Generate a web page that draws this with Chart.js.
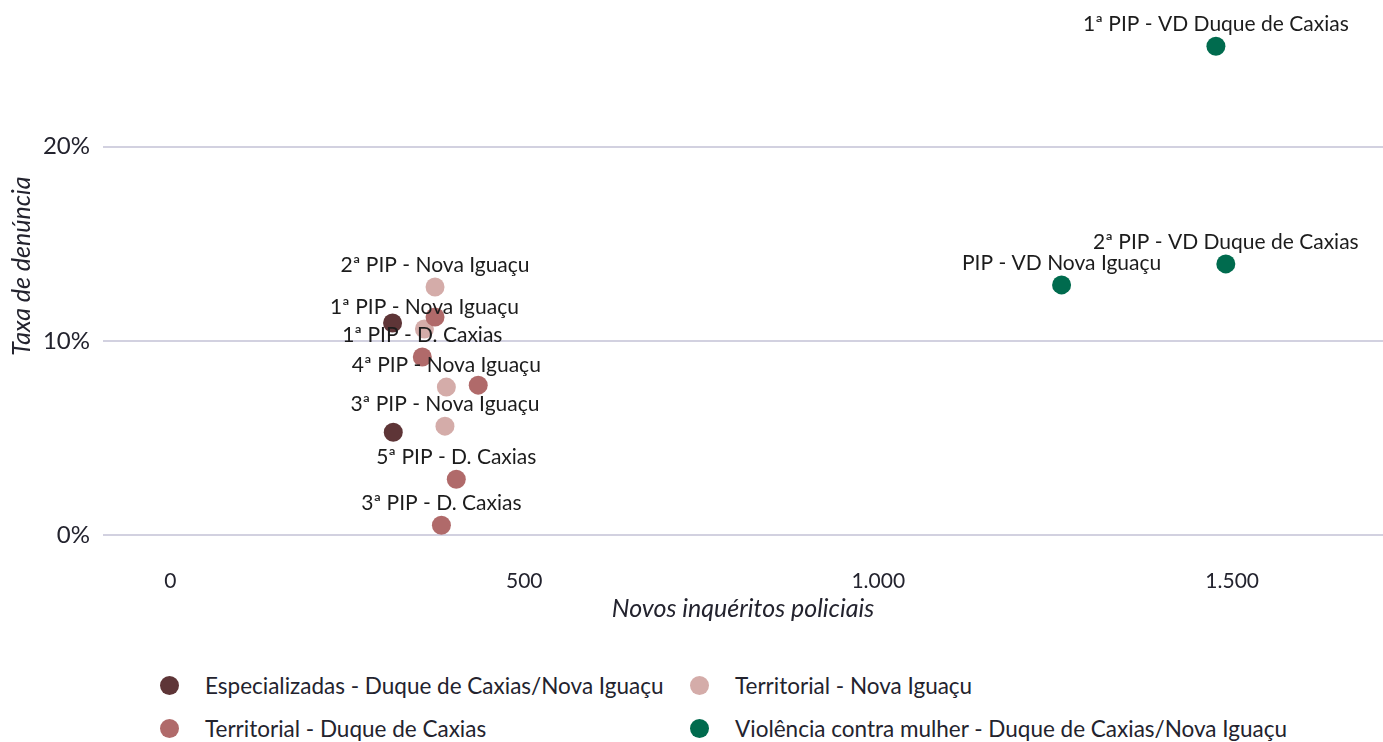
<!DOCTYPE html>
<html>
<head>
<meta charset="utf-8">
<script src="https://cdn.jsdelivr.net/npm/chart.js@4.4.1/dist/chart.umd.min.js"></script>
<style>
  html, body { margin: 0; background: #fff; font-family: Lato, sans-serif; overflow: hidden; }
  #wrap { position: relative; width: 1383px; height: 742px; overflow: hidden; }
  #box { position: absolute; left: 0; top: 0; width: 1383px; height: 624px; }
  #legend { position: absolute; left: 160px; top: 664px; display: grid; grid-template-columns: 530px auto; grid-auto-rows: 43px; }
  .item { display: flex; align-items: center; font-size: 22.5px; color: #23232e; white-space: nowrap; }
  .dot { width: 19px; height: 19px; border-radius: 50%; margin-right: 26px; flex: none; }
</style>
</head>
<body>
<div id="wrap">
  <div id="box"><canvas id="myChart"></canvas></div>
  <div id="legend"></div>
</div>
<script>
// categories (legend groups)
const groups = [
  'Especializadas - Duque de Caxias/Nova Iguaçu',
  'Territorial - Nova Iguaçu',
  'Territorial - Duque de Caxias',
  'Violência contra mulher - Duque de Caxias/Nova Iguaçu'
];
const groupColors = ['#5e3537', '#d4aca9', '#b06a6a', '#006b4e'];

// x = novos inquéritos, y = taxa de denúncia (%)
const espX = [314, 315];
const espY = [10.93, 5.31];
const espNames = ['', ''];

const terrNiX = [374, 359, 390, 388];
const terrNiY = [12.78, 10.62, 7.63, 5.62];
const terrNiNames = ['2ª PIP - Nova Iguaçu', '1ª PIP - Nova Iguaçu', '4ª PIP - Nova Iguaçu', '3ª PIP - Nova Iguaçu'];

const terrDcX = [374, 356, 435, 404, 383];
const terrDcY = [11.24, 9.18, 7.73, 2.89, 0.52];
const terrDcNames = ['', '1ª PIP - D. Caxias', '', '5ª PIP - D. Caxias', '3ª PIP - D. Caxias'];

const vcmX = [1477, 1491, 1259];
const vcmY = [25.17, 13.97, 12.89];
const vcmNames = ['1ª PIP - VD Duque de Caxias', '2ª PIP - VD Duque de Caxias', 'PIP - VD Nova Iguaçu'];

const xTicks = [0, 500, 1000, 1500];
const xTickLabels = ['0', '500', '1.000', '1.500'];
const yTicks = [0, 10, 20];
const yTickLabels = ['0%', '10%', '20%'];

const seriesX = [espX, terrNiX, terrDcX, vcmX];
const seriesY = [espY, terrNiY, terrDcY, vcmY];
const seriesNames = [espNames, terrNiNames, terrDcNames, vcmNames];

function points(xs, ys) {
  return xs.map((x, i) => ({ x: x, y: ys[i] }));
}

const textColor = '#23232e';

const pointLabels = {
  id: 'pointLabels',
  afterDatasetsDraw(chart) {
    const ctx = chart.ctx;
    ctx.save();
    ctx.font = '21px Lato';
    ctx.fillStyle = '#1c1c1c';
    ctx.textAlign = 'center';
    ctx.textBaseline = 'middle';
    chart.data.datasets.forEach((ds, i) => {
      const meta = chart.getDatasetMeta(i);
      meta.data.forEach((pt, j) => {
        const t = ds.names[j];
        if (t) ctx.fillText(t, pt.x, pt.y - 22);
      });
    });
    // y axis title
    ctx.translate(22, 266);
    ctx.rotate(-Math.PI / 2);
    ctx.font = 'italic 25px Lato';
    ctx.fillStyle = textColor;
    ctx.fillText('Taxa de denúncia', 0, 0);
    ctx.restore();
  }
};

const ctx = document.getElementById('myChart').getContext('2d');
const myChart = new Chart(ctx, {
  type: 'scatter',
  data: {
    datasets: groups.map((g, i) => ({
      label: g,
      data: points(seriesX[i], seriesY[i]),
      names: seriesNames[i],
      backgroundColor: groupColors[i],
      borderWidth: 0,
      pointRadius: 9.5,
      pointHoverRadius: 9.5,
      order: 3 - i
    }))
  },
  options: {
    responsive: true,
    maintainAspectRatio: false,
    animation: false,
    clip: false,
    layout: { autoPadding: false, padding: 0 },
    plugins: {
      legend: { display: false },
      tooltip: { enabled: false }
    },
    scales: {
      x: {
        type: 'linear',
        min: -95,
        max: 1713,
        afterBuildTicks: (s) => { s.ticks = xTicks.map(v => ({ value: v })); },
        ticks: {
          padding: 14,
          color: textColor,
          font: { family: 'Lato', size: 21 },
          callback: (v) => xTickLabels[xTicks.indexOf(v)]
        },
        grid: { display: false, drawTicks: false },
        border: { display: false },
        title: {
          display: true,
          text: 'Novos inquéritos policiais',
          color: textColor,
          font: { family: 'Lato', size: 25, style: 'italic' },
          padding: { top: -14, bottom: 0 }
        }
      },
      y: {
        type: 'linear',
        min: -1,
        max: 26.14,
        afterBuildTicks: (s) => { s.ticks = yTicks.map(v => ({ value: v })); },
        afterFit: (s) => { s.width = 103; },
        ticks: {
          padding: 13,
          color: textColor,
          font: { family: 'Lato', size: 24 },
          callback: (v) => yTickLabels[yTicks.indexOf(v)]
        },
        grid: { color: '#d2d1e0', lineWidth: 2, drawTicks: false },
        border: { display: false },
        title: { display: false }
      }
    }
  },
  plugins: [pointLabels]
});

// legend in two columns
const legend = document.getElementById('legend');
[0, 1, 2, 3].forEach(i => {
  const item = document.createElement('div');
  item.className = 'item';
  item.innerHTML = '<span class="dot" style="background:' + groupColors[i] + '"></span>' + groups[i];
  legend.appendChild(item);
});
</script>
</body>
</html>
